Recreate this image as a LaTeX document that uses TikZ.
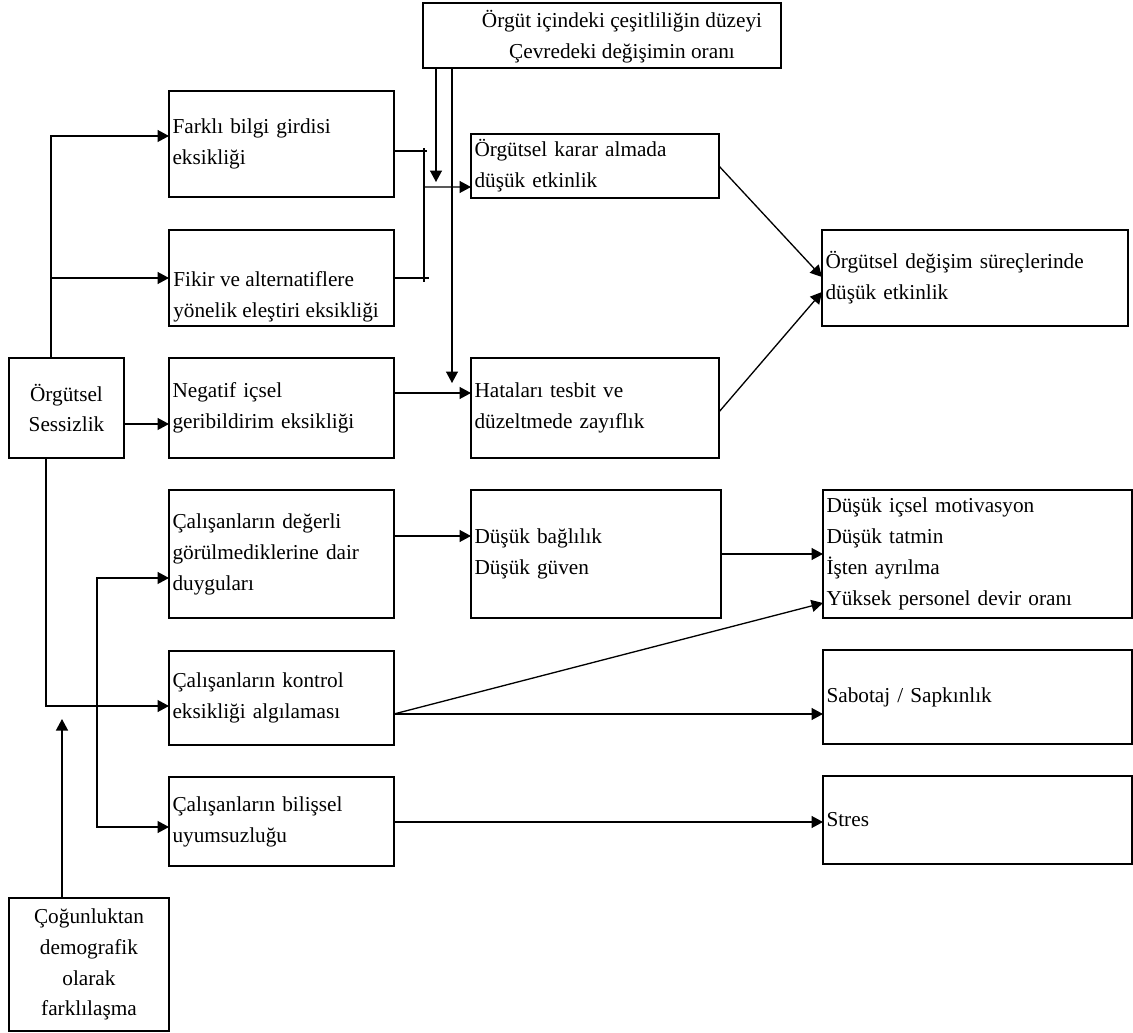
\documentclass[tikz,border=0pt]{standalone}
\usepackage{fontspec}
\setmainfont{Liberation Serif}
\usepackage{tikz}
\usetikzlibrary{arrows.meta,positioning,calc}

\begin{document}
\begin{tikzpicture}[x=0.02cm,y=-0.02cm,
    font=\fontsize{12.1pt}{17.6pt}\selectfont,
    box/.style={draw,line width=1.3pt,outer sep=0pt,inner xsep=0.07cm,inner ysep=0pt,anchor=north west,align=left},
    lbl/.style={inner sep=0pt,anchor=west,align=left},
    conn/.style={-{Triangle[length=0.23cm,width=0.24cm]},line width=0.75pt},
    wire/.style={line width=0.75pt}]
  \useasboundingbox (0,0) rectangle (1133,1032);
  % boxes
  \node[box,text width=7.02cm,minimum height=1.30cm] (cesit) at (423,3) {};
  \node[lbl,anchor=center,align=center] (cesitlbl) at (622,37)
    {Örgüt içindeki çeşitliliğin düzeyi\\Çevredeki değişimin oranı};
  \node[box,text width=4.36cm,minimum height=2.12cm] (farkli) at (169,91)
    {Farklı bilgi girdisi\\eksikliği};
  \node[box,text width=4.36cm,minimum height=1.92cm] (fikir) at (169,230) {};
  \node[lbl] (fikirlbl) at (173,297)
    {Fikir ve alternatiflere\\yönelik eleştiri eksikliği};
  \node[box,text width=4.36cm,minimum height=2.00cm] (negatif) at (169,358)
    {Negatif içsel\\geribildirim eksikliği};
  \node[box,text width=2.16cm,minimum height=2.00cm,align=center] (sessiz) at (9,358)
    {Örgütsel\\Sessizlik};
  \node[box,text width=4.82cm,minimum height=1.28cm] (karar) at (471,134)
    {Örgütsel karar almada\\düşük etkinlik};
  \node[box,text width=4.82cm,minimum height=2.00cm] (hata) at (471,358)
    {Hataları tesbit ve\\düzeltmede zayıflık};
  \node[box,text width=5.98cm,minimum height=1.92cm] (degisim) at (822,230)
    {Örgütsel değişim süreçlerinde\\düşük etkinlik};
  \node[box,text width=4.36cm,minimum height=2.56cm] (degerli) at (169,490)
    {Çalışanların değerli\\görülmediklerine dair\\duyguları};
  \node[box,text width=4.36cm,minimum height=1.88cm] (kontrol) at (169,651)
    {Çalışanların kontrol\\eksikliği algılaması};
  \node[box,text width=4.36cm,minimum height=1.78cm] (bilissel) at (169,777)
    {Çalışanların bilişsel\\uyumsuzluğu};
  \node[box,text width=3.06cm,minimum height=2.66cm,align=center] (cogunluk) at (9,898)
    {Çoğunluktan\\demografik\\olarak\\farklılaşma};
  \node[box,text width=4.86cm,minimum height=2.56cm] (baglilik) at (471,490)
    {Düşük bağlılık\\Düşük güven};
  \node[box,text width=6.04cm,minimum height=2.56cm] (motiv) at (823,490)
    {Düşük içsel motivasyon\\Düşük tatmin\\İşten ayrılma\\Yüksek personel devir oranı};
  \node[box,text width=6.04cm,minimum height=1.88cm] (sabotaj) at (823,650)
    {Sabotaj / Sapkınlık};
  \node[box,text width=6.04cm,minimum height=1.76cm] (stres) at (823,776)
    {Stres};

  % junction points
  \coordinate (up) at ([xshift=-0.31cm]sessiz.north);
  \coordinate (spl) at (97,706);
  \coordinate (dtip) at (62,719);
  \coordinate (bartop) at (424,148);
  \coordinate (barbot) at (424,282);
  \coordinate (mrg) at (424,187);
  \coordinate (tip1) at (436,182);
  \coordinate (tip2) at (452,383);
  \coordinate (ko) at ([yshift=-0.32cm]kontrol.east);

  % arrows
  \draw[conn] (up) |- ([yshift=0.16cm]farkli.west);
  \draw[conn] (up |- fikir.west) -- (fikir.west);
  \draw[conn] ([yshift=-0.32cm]sessiz.east) -- ([yshift=-0.32cm]negatif.west);
  \draw[conn] ([xshift=-0.41cm]sessiz.south) |- ([yshift=-0.16cm]kontrol.west);
  \draw[conn] (spl) |- ([yshift=-0.48cm]degerli.west);
  \draw[conn] (spl) |- ([yshift=-0.11cm]bilissel.west);
  \draw[conn] (cogunluk.north -| dtip) -- (dtip);

  \draw[wire] ([yshift=-0.14cm]farkli.east) -- ++(0.66cm,0);
  \draw[wire] (fikir.east) -- ++(0.70cm,0);
  \draw[wire] (bartop) -- (barbot);
  \draw[conn] (mrg) -- ([yshift=-0.42cm]karar.west);
  \draw[conn] (cesit.south -| tip1) -- (tip1);
  \draw[conn] (cesit.south -| tip2) -- (tip2);
  \draw[conn] ([yshift=0.30cm]negatif.east) -- ([yshift=0.30cm]hata.west);
  \draw[conn] (karar.east) -- ([yshift=0.02cm]degisim.west);
  \draw[conn] ([yshift=-0.08cm]hata.east) -- ([yshift=-0.28cm]degisim.west);

  \draw[conn] ([yshift=0.36cm]degerli.east) -- ([yshift=0.36cm]baglilik.west);
  \draw[conn] (baglilik.east) -- (motiv.west);
  \draw[conn] (ko) -- ([yshift=-0.98cm]motiv.west);
  \draw[conn] (ko) -- (ko -| sabotaj.west);
  \draw[conn] ([yshift=-0.01cm]bilissel.east) -- ([yshift=-0.01cm]bilissel.east -| stres.west);
\end{tikzpicture}
\end{document}
